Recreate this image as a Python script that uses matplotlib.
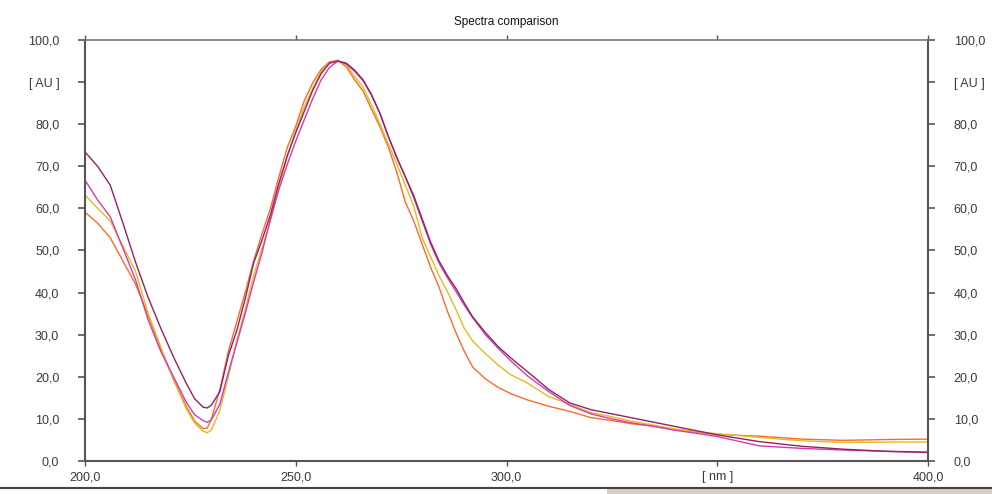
import matplotlib
matplotlib.use("Agg")
import matplotlib.pyplot as plt
from matplotlib.patches import Rectangle
from matplotlib.lines import Line2D

plt.rcParams['font.family'] = ['Liberation Sans', 'DejaVu Sans']

wavelength = [200, 203, 206, 209, 212, 215, 218, 221, 224, 226, 228, 229, 230, 232,
              234, 236, 238, 240, 242, 244, 246, 248, 250, 252, 254, 256, 258, 260,
              262, 264, 266, 268, 270, 272, 274, 276, 278, 280, 282, 284, 286, 288,
              290, 292, 295, 298, 301, 305, 310, 315, 320, 325, 330, 335, 340, 345,
              350, 360, 370, 380, 390, 400]

purple = [73.4, 70.0, 65.5, 56.5, 47.2, 38.8, 31.5, 24.7, 18.5, 14.8, 12.8, 12.6, 13.3, 16.5,
          25.0, 31.0, 38.5, 47.0, 52.5, 58.5, 66.0, 72.5, 78.0, 83.0, 88.0, 92.0, 94.5, 95.0,
          94.5, 92.8, 90.5, 87.0, 82.5, 77.0, 72.0, 67.5, 63.0, 57.5, 52.0, 47.5, 44.0, 41.0,
          37.5, 34.2, 30.5, 27.2, 24.5, 21.2, 17.0, 13.8, 12.2, 11.2, 10.2, 9.2, 8.2, 7.2,
          6.2, 4.6, 3.5, 2.8, 2.3, 2.1]

magenta = [66.7, 62.0, 58.0, 50.5, 43.0, 33.5, 26.0, 20.0, 14.0, 11.0, 9.6, 9.2, 9.8, 13.5,
           21.0, 28.0, 35.0, 42.5, 49.5, 57.5, 64.5, 70.5, 76.0, 81.0, 86.0, 90.5, 93.5, 95.0,
           94.3, 92.5, 90.3, 86.8, 82.5, 77.0, 72.0, 67.5, 62.5, 57.0, 51.5, 47.0, 43.5, 40.3,
           37.0, 34.0, 30.0, 26.8, 23.8, 20.2, 16.5, 13.2, 11.2, 10.0, 9.0, 8.2, 7.3, 6.6,
           5.8, 3.6, 3.0, 2.6, 2.3, 2.0]

yellow = [63.2, 60.0, 57.0, 51.0, 45.0, 35.0, 27.0, 19.2, 12.5, 9.0, 7.1, 6.7, 7.4, 12.0,
          20.0, 28.5, 36.0, 44.0, 50.5, 57.0, 65.0, 72.5, 78.5, 84.0, 88.5, 92.5, 94.5, 95.1,
          94.0, 91.3, 88.7, 84.5, 80.0, 75.2, 70.5, 65.5, 60.5, 53.0, 48.5, 44.0, 40.2, 36.0,
          31.5, 28.5, 25.5, 22.8, 20.5, 18.5, 15.3, 13.5, 11.5, 10.5, 9.4, 8.5, 7.6, 7.0,
          6.5, 5.6, 4.8, 4.4, 4.5, 4.5]

orange = [59.1, 56.5, 53.0, 47.5, 42.0, 34.5, 26.5, 19.5, 13.0, 9.5, 7.7, 7.8, 10.0, 17.0,
          26.0, 33.0, 40.0, 47.5, 54.0, 60.0, 67.5, 74.5, 79.5, 85.5, 89.8, 93.0, 94.8, 95.2,
          93.6, 90.5, 87.8, 83.5, 79.3, 74.5, 68.5, 61.5, 57.0, 51.5, 46.0, 41.3, 35.5, 30.5,
          26.0, 22.3, 19.5, 17.5, 16.0, 14.5, 13.0, 11.8, 10.3, 9.6, 8.8, 8.3, 7.5, 6.9,
          6.3, 5.9, 5.2, 4.9, 5.1, 5.2]

series = [("orange", orange, "#FF6A2A"),
          ("yellow", yellow, "#E2BC1E"),
          ("magenta", magenta, "#D83AAE"),
          ("purple", purple, "#8E2368")]

x_ticks = [200, 250, 300, 350, 400]
x_labels = ["200,0", "250,0", "300,0", "[ nm ]", "400,0"]
y_ticks = [0, 10, 20, 30, 40, 50, 60, 70, 80, 90, 100]
y_labels = ["0,0", "10,0", "20,0", "30,0", "40,0", "50,0", "60,0", "70,0", "80,0", "[ AU ]", "100,0"]

fig = plt.figure(figsize=(9.92, 4.94), dpi=100)
ax = fig.add_axes([85/992, 1 - 461/494, (928 - 85)/992, (461 - 40)/494])

for name, vals, col in series:
    ax.plot(wavelength, vals, color=col, lw=1.0, solid_joinstyle='round')

ax.set_xlim(200, 400)
ax.set_ylim(0, 100)

tick_col = "#555555"
lab_col = "#3a3a3a"
ax.set_xticks(x_ticks)
ax.set_xticklabels(x_labels)
ax.set_yticks(y_ticks)
ax.set_yticklabels(y_labels)

ax.tick_params(axis='y', which='both', left=True, right=True, labelleft=True, labelright=True,
               direction='out', length=5, width=1.2, color=tick_col, pad=13.5,
               labelsize=9, labelcolor=lab_col)
ax.tick_params(axis='x', which='both', bottom=True, top=True, labelbottom=True, labeltop=False,
               direction='out', length=3.5, width=1.0, color=tick_col, pad=4,
               labelsize=9, labelcolor=lab_col)

for side in ['left', 'right', 'bottom']:
    ax.spines[side].set_color(tick_col)
    ax.spines[side].set_linewidth(1.5)
ax.spines['top'].set_color("#777777")
ax.spines['top'].set_linewidth(1.2)

fig.text((85 + 928) / 2 / 992, 1 - 22 / 494, "Spectra comparison", ha='center', va='center',
         fontsize=8.5, color='#111111')

# bottom tab bar remnant
fig.add_artist(Rectangle((607/992, 0), 1 - 607/992, 1 - 488/494, transform=fig.transFigure,
                         facecolor='#d4d0c8', edgecolor='none'))
fig.add_artist(Line2D([0, 1], [1 - 488/494, 1 - 488/494], transform=fig.transFigure,
                      color='#444444', lw=1.5))

fig.savefig("out.png", dpi=100)
